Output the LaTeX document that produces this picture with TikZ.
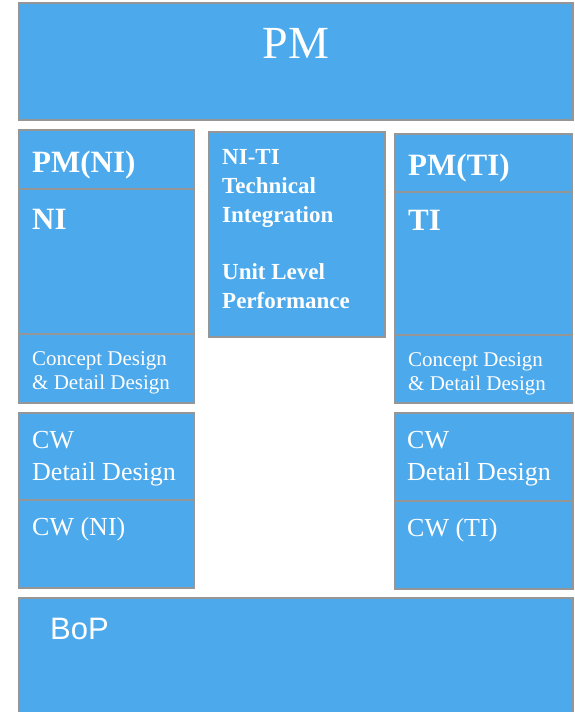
\documentclass[tikz,border=0pt]{standalone}
\usepackage{fontspec}
\setmainfont{Liberation Serif}
\newfontfamily\arialf{Liberation Sans}
\definecolor{boxblue}{RGB}{75,169,236}
\definecolor{boxgray}{RGB}{150,150,150}
\begin{document}
\begin{tikzpicture}[x=1pt,y=-1pt,
  panel/.style={draw=boxgray,fill=boxblue,line width=1.8pt},
  divline/.style={draw=boxgray,line width=1.8pt},
  txt/.style={text=white,inner sep=0pt,anchor=base west},
  bigbold/.style={txt,font=\fontsize{31}{36}\selectfont\bfseries},
  midbold/.style={txt,font=\fontsize{23}{28}\selectfont\bfseries},
  smalltxt/.style={txt,font=\fontsize{21}{24}\selectfont},
  cwtxt/.style={txt,font=\fontsize{26}{31}\selectfont}]
\useasboundingbox (0,0) rectangle (575,712);
% top PM box
\draw[panel] (19,3) rectangle (573,120);
\node[txt,anchor=base,font=\fontsize{46}{52}\selectfont] (pm) at (296,58) {PM};
% left column
\draw[panel] (19,130) rectangle (194,403);
\draw[divline] (19,189) -- (194,189);
\draw[divline] (19,334) -- (194,334);
\node[bigbold] (pmni) at (32,172) {PM(NI)};
\node[bigbold] (ni) at (32,229) {NI};
\node[smalltxt] (cdl1) at (32,365) {Concept Design};
\node[smalltxt] (cdl2) at (32,389) {\& Detail Design};
% middle
\draw[panel] (209,132) rectangle (385,337);
\node[midbold] (m1) at (222,164) {NI-TI};
\node[midbold] (m2) at (222,193) {Technical};
\node[midbold] (m3) at (222,222) {Integration};
\node[midbold] (m4) at (222,279) {Unit Level};
\node[midbold] (m5) at (222,308) {Performance};
% right column
\draw[panel] (395,134) rectangle (572,403);
\draw[divline] (395,192) -- (572,192);
\draw[divline] (395,335) -- (572,335);
\node[bigbold] (pmti) at (408,175) {PM(TI)};
\node[bigbold] (ti) at (408,230) {TI};
\node[smalltxt] (cdr1) at (408,366) {Concept Design};
\node[smalltxt] (cdr2) at (408,390) {\& Detail Design};
% lower left
\draw[panel] (19,413) rectangle (194,588);
\draw[divline] (19,500) -- (194,500);
\node[cwtxt] (cwl1) at (32,448) {CW};
\node[cwtxt] (cwl2) at (32,480) {Detail Design};
\node[cwtxt] (cwl3) at (32,535) {CW (NI)};
% lower right
\draw[panel] (395,413) rectangle (573,589);
\draw[divline] (395,501) -- (573,501);
\node[cwtxt] (cwr1) at (407,448) {CW};
\node[cwtxt] (cwr2) at (407,480) {Detail Design};
\node[cwtxt] (cwr3) at (407,536) {CW (TI)};
% BoP
\draw[panel] (19,598) rectangle (573,718);
\node[txt,font=\fontsize{31}{36}\selectfont\arialf] (bop) at (50,639) {BoP};
\end{tikzpicture}
\end{document}
